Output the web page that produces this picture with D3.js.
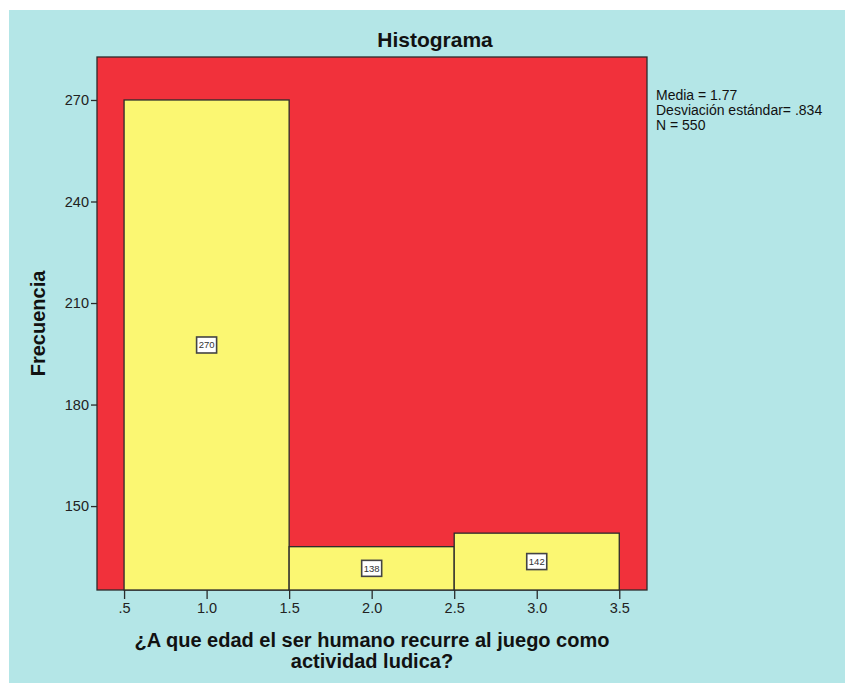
<!DOCTYPE html>
<html>
<head>
<meta charset="utf-8">
<script src="https://cdn.jsdelivr.net/npm/d3@7"></script>
<style>
  body { margin: 0; background: #ffffff; }
  svg { display: block; font-family: "Liberation Sans", Arial, sans-serif; }
</style>
</head>
<body>
<svg></svg>
<script>
var svgWidth = 845, svgHeight = 683;

// histogram bins (lower edge, upper edge) and counts
var binStarts = [0.5, 1.5, 2.5];
var binEnds = [1.5, 2.5, 3.5];
var counts = [270, 138, 142];
var xTicks = [0.5, 1.0, 1.5, 2.0, 2.5, 3.0, 3.5];
var yTicks = [150, 180, 210, 240, 270];
var statsLines = ["Media = 1.77", "Desviación estándar= .834", "N = 550"];
var xTitleLines = ["¿A que edad el ser humano recurre al juego como", "actividad ludica?"];

var plot = { left: 97, top: 57, right: 647, bottom: 590 };

var svg = d3.select("svg")
            .attr("width", svgWidth)
            .attr("height", svgHeight);

// cyan chart background
svg.append("rect")
   .attr("x", 9).attr("y", 10)
   .attr("width", svgWidth - 9).attr("height", svgHeight - 10)
   .attr("fill", "#b4e6e7");

var x = d3.scaleLinear().domain([0.336, 3.668]).range([plot.left, plot.right]);
var y = d3.scaleLinear().domain([125.2, 282.7]).range([plot.bottom, plot.top]);

// red plot area
svg.append("rect")
   .attr("x", plot.left).attr("y", plot.top)
   .attr("width", plot.right - plot.left).attr("height", plot.bottom - plot.top)
   .attr("fill", "#f1313b")
   .attr("stroke", "#2b2b2b")
   .attr("stroke-width", 1.3);

var bins = counts.map(function(c, i) {
    return { x0: binStarts[i], x1: binEnds[i], count: c };
});

// bars
svg.selectAll(".bar")
   .data(bins)
   .enter().append("rect")
     .attr("class", "bar")
     .attr("x", function(d) { return x(d.x0); })
     .attr("y", function(d) { return y(d.count); })
     .attr("width", function(d) { return x(d.x1) - x(d.x0); })
     .attr("height", function(d) { return plot.bottom - y(d.count); })
     .attr("fill", "#fbf772")
     .attr("stroke", "#2b2b2b")
     .attr("stroke-width", 1.3);

// value labels in small boxes
var labels = svg.selectAll(".lbl")
   .data(bins)
   .enter().append("g")
     .attr("class", "lbl")
     .attr("transform", function(d) {
         var cx = (x(d.x0) + x(d.x1)) / 2;
         var cy = (y(d.count) + plot.bottom) / 2;
         return "translate(" + cx + "," + cy + ")";
     });

labels.append("rect")
   .attr("x", -10).attr("y", -8)
   .attr("width", 20).attr("height", 16)
   .attr("fill", "#ffffff")
   .attr("stroke", "#444")
   .attr("stroke-width", 1.6);

labels.append("text")
   .attr("text-anchor", "middle")
   .attr("dy", "0.35em")
   .attr("font-size", 9.5)
   .attr("fill", "#333")
   .text(function(d) { return d.count; });

// axes
var fmtX = function(v) { return d3.format(".1f")(v).replace(/^0\./, "."); };

var xAxis = svg.append("g")
   .attr("transform", "translate(0," + plot.bottom + ")")
   .call(d3.axisBottom(x).tickValues(xTicks).tickFormat(fmtX).tickSize(9).tickPadding(4));

var yAxis = svg.append("g")
   .attr("transform", "translate(" + plot.left + ",0)")
   .call(d3.axisLeft(y).tickValues(yTicks).tickFormat(d3.format("d")).tickSize(6).tickPadding(2));

[xAxis, yAxis].forEach(function(ax) {
    ax.select(".domain").remove();
    ax.selectAll("line").attr("stroke", "#2b2b2b").attr("stroke-width", 1.3);
    ax.selectAll("text").attr("font-size", 14.5).attr("fill", "#222")
      .style("font-family", "'Liberation Sans', Arial, sans-serif");
});

// title
svg.append("text")
   .attr("x", 435).attr("y", 47)
   .attr("text-anchor", "middle")
   .attr("font-size", 21)
   .attr("font-weight", "bold")
   .attr("fill", "#111")
   .text("Histograma");

// stats annotation
svg.selectAll(".stat")
   .data(statsLines)
   .enter().append("text")
     .attr("class", "stat")
     .attr("x", 656)
     .attr("y", function(d, i) { return 100 + i * 15; })
     .attr("font-size", 14)
     .attr("fill", "#111")
     .text(function(d) { return d; });

// x axis title
svg.selectAll(".xtitle")
   .data(xTitleLines)
   .enter().append("text")
     .attr("class", "xtitle")
     .attr("x", (plot.left + plot.right) / 2)
     .attr("y", function(d, i) { return 647 + i * 21; })
     .attr("text-anchor", "middle")
     .attr("font-size", 20)
     .attr("font-weight", "bold")
     .attr("fill", "#111")
     .text(function(d) { return d; });

// y axis title
svg.append("text")
   .attr("transform", "translate(45," + ((plot.top + plot.bottom) / 2) + ") rotate(-90)")
   .attr("text-anchor", "middle")
   .attr("font-size", 20)
   .attr("font-weight", "bold")
   .attr("fill", "#111")
   .text("Frecuencia");
</script>
</body>
</html>
